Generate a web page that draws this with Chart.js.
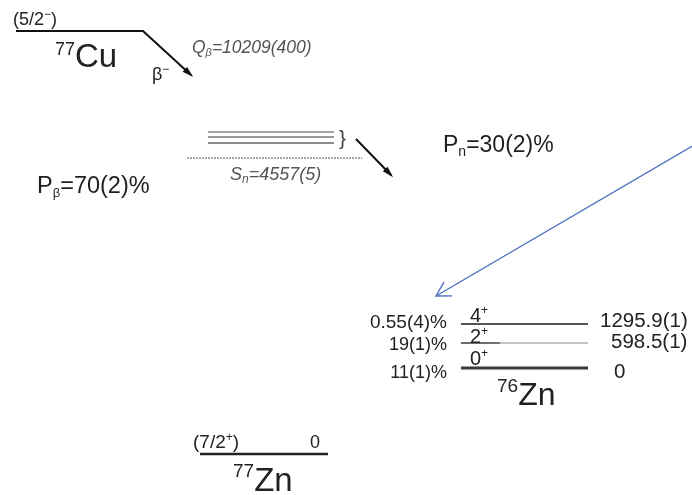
<!DOCTYPE html>
<html>
<head>
<meta charset="utf-8">
<script src="https://cdn.jsdelivr.net/npm/chart.js@4/dist/chart.umd.min.js"></script>
<style>
  body { margin: 0; background: #fff; }
  #wrap { width: 692px; height: 495px; }
</style>
</head>
<body>
<div id="wrap"><canvas id="schema" width="692" height="495"></canvas></div>
<script>
// donnees du schema de desintegration 77Cu -> 77Zn / 76Zn
const cuSpin = '(5/2';
const cuMass = '77';
const qBeta = '=10209(400)';
const sNeutron = '=4557(5)';
const pBeta = '=70(2)%';
const pNeutron = '=30(2)%';
const zn76Mass = '76';
const zn76Spins = ['4', '2', '0'];
const zn76Energies = ['1295.9(1)', '598.5(1)', '0'];
const zn76Feeding = ['0.55(4)%', '19(1)%', '11(1)%'];
const zn77Mass = '77';
const zn77Spin = '(7/2';
const zn77Energy = '0';

// position verticale des niveaux (unites du schema)
const zn76LevelY = [324, 343, 368];

const FAM = '"Liberation Sans", Arial, sans-serif';

//crea un dataset "segment"
function seg(points, color, width, extra) {
  return Object.assign({
    data: points,
    showLine: true,
    pointRadius: 0,
    borderColor: color,
    borderWidth: width,
    fill: false
  }, extra || {});
}

function getDatasets() {
  let ds = [];
  // niveau 77Cu + fleche beta
  ds.push(seg([{x: 16, y: 31}, {x: 143, y: 31}, {x: 191, y: 75}], '#111', 2, {arrow: 'fill'}));
  // niveaux au dessus de Sn
  ds.push(seg([{x: 208, y: 132}, {x: 334, y: 132}], '#8a8a8a', 1.5));
  ds.push(seg([{x: 208, y: 137}, {x: 334, y: 137}], '#777', 1.5));
  ds.push(seg([{x: 208, y: 143}, {x: 334, y: 143}], '#666', 1.5));
  // Sn pointille
  ds.push(seg([{x: 187, y: 158}, {x: 362, y: 158}], '#555', 1, {borderDash: [2, 1]}));
  // fleche neutron
  ds.push(seg([{x: 356, y: 139}, {x: 391, y: 175}], '#111', 2, {arrow: 'fill'}));
  // fleche bleue
  ds.push(seg([{x: 694, y: 145}, {x: 436, y: 296}], '#4a6cc0', 1.3, {arrow: 'open'}));
  // niveaux 76Zn
  let styles = [['#555', 2], ['#888', 1], ['#3a3a3a', 3]];
  for (let i = 0; i < zn76LevelY.length; i++) {
    ds.push(seg([{x: 461, y: zn76LevelY[i]}, {x: 588, y: zn76LevelY[i]}], styles[i][0], styles[i][1]));
  }
  ds.push(seg([{x: 461, y: zn76LevelY[1]}, {x: 500, y: zn76LevelY[1]}], '#222', 1.5));
  // niveau 77Zn
  ds.push(seg([{x: 200, y: 454}, {x: 328, y: 454}], '#222', 2.5));
  return ds;
}

//etichette: x, y (ligne de base), morceaux de texte
function getLabels() {
  const sup = (t, s, dy) => ({t: t, size: s, dy: dy});
  let l = [];
  l.push({x: 13, y: 25, size: 18, parts: [{t: cuSpin}, sup('\u2212', 12, -7), {t: ')'}]});
  l.push({x: 55, y: 67, size: 33, parts: [sup(cuMass, 18, -12), {t: 'Cu'}]});
  l.push({x: 152, y: 80, size: 18, parts: [{t: '\u03b2'}, sup('\u2212', 12, -7)]});
  l.push({x: 192, y: 53, size: 17.5, italic: true, color: '#555', parts: [{t: 'Q'}, sup('\u03b2', 11, 3), {t: qBeta}]});
  l.push({x: 339, y: 145, size: 21, color: '#444', parts: [{t: '}'}]});
  l.push({x: 230, y: 180, size: 18, italic: true, color: '#555', parts: [{t: 'S'}, sup('n', 12, 3), {t: sNeutron}]});
  l.push({x: 37, y: 193, size: 23.5, color: '#1e1e1e', parts: [{t: 'P'}, sup('\u03b2', 13, 4), {t: pBeta}]});
  l.push({x: 443, y: 152, size: 23, color: '#1e1e1e', parts: [{t: 'P'}, sup('n', 14, 4), {t: pNeutron}]});
  let feedY = [328, 350, 378];
  let feedSize = [19, 18, 18];
  let spinY = [322, 343, 365];
  let enX = [600, 611, 614];
  let enY = [327, 348, 378];
  for (let i = 0; i < zn76Spins.length; i++) {
    l.push({x: 447, y: feedY[i], size: feedSize[i], align: 'right', parts: [{t: zn76Feeding[i]}]});
    l.push({x: 470, y: spinY[i], size: 20, parts: [{t: zn76Spins[i]}, sup('+', 12, -8)]});
    l.push({x: enX[i], y: enY[i], size: 20.5, parts: [{t: zn76Energies[i]}]});
  }
  l.push({x: 497, y: 405, size: 32, parts: [sup(zn76Mass, 19, -13), {t: 'Zn'}]});
  l.push({x: 193, y: 448, size: 19, parts: [{t: zn77Spin}, sup('+', 12, -7), {t: ')'}]});
  l.push({x: 310, y: 448, size: 18, parts: [{t: zn77Energy}]});
  l.push({x: 233, y: 491, size: 33, parts: [sup(zn77Mass, 19, -14), {t: 'Zn'}]});
  return l;
}

function fontOf(size, italic) {
  return (italic ? 'italic ' : '') + size + 'px ' + FAM;
}

function drawRich(ctx, px, py, lab) {
  let w = lab.parts.map(p => {
    ctx.font = fontOf(p.size || lab.size, lab.italic);
    return ctx.measureText(p.t).width;
  });
  let tot = w.reduce((a, b) => a + b, 0);
  let cx = lab.align === 'right' ? px - tot : px;
  ctx.fillStyle = lab.color || '#222';
  ctx.textBaseline = 'alphabetic';
  ctx.textAlign = 'left';
  for (let i = 0; i < lab.parts.length; i++) {
    let p = lab.parts[i];
    ctx.font = fontOf(p.size || lab.size, lab.italic);
    ctx.fillText(p.t, cx, py + (p.dy || 0));
    cx += w[i];
  }
}

const schemaPlugin = {
  id: 'schema',
  afterDatasetsDraw(chart) {
    const ctx = chart.ctx;
    const xs = chart.scales.x, ys = chart.scales.y;
    ctx.save();
    // punte delle frecce
    chart.data.datasets.forEach(d => {
      if (!d.arrow) return;
      let n = d.data.length;
      let a = d.data[n - 2], b = d.data[n - 1];
      let x1 = xs.getPixelForValue(a.x), y1 = ys.getPixelForValue(a.y);
      let x2 = xs.getPixelForValue(b.x), y2 = ys.getPixelForValue(b.y);
      let ang = Math.atan2(y2 - y1, x2 - x1);
      ctx.strokeStyle = d.borderColor;
      ctx.fillStyle = d.borderColor;
      ctx.lineWidth = d.borderWidth;
      if (d.arrow === 'fill') {
        let L = 9, s = 0.38;
        ctx.beginPath();
        ctx.moveTo(x2 + 3 * Math.cos(ang), y2 + 3 * Math.sin(ang));
        ctx.lineTo(x2 - L * Math.cos(ang - s), y2 - L * Math.sin(ang - s));
        ctx.lineTo(x2 - L * Math.cos(ang + s), y2 - L * Math.sin(ang + s));
        ctx.closePath();
        ctx.fill();
      } else {
        let L = 16, s = 0.52;
        ctx.beginPath();
        ctx.moveTo(x2 - L * Math.cos(ang - s), y2 - L * Math.sin(ang - s));
        ctx.lineTo(x2, y2);
        ctx.lineTo(x2 - L * Math.cos(ang + s), y2 - L * Math.sin(ang + s));
        ctx.stroke();
      }
    });
    // testi
    getLabels().forEach(lab => {
      drawRich(ctx, xs.getPixelForValue(lab.x), ys.getPixelForValue(lab.y), lab);
    });
    ctx.restore();
  }
};

addEventListener('DOMContentLoaded', () => {
  new Chart(document.getElementById('schema'), {
    type: 'scatter',
    data: {datasets: getDatasets()},
    options: {
      responsive: false,
      animation: false,
      layout: {padding: 0},
      scales: {
        x: {type: 'linear', min: 0, max: 692, display: false},
        y: {type: 'linear', min: 0, max: 495, reverse: true, display: false}
      },
      plugins: {legend: {display: false}, tooltip: {enabled: false}}
    },
    plugins: [schemaPlugin]
  });
});
</script>
</body>
</html>
